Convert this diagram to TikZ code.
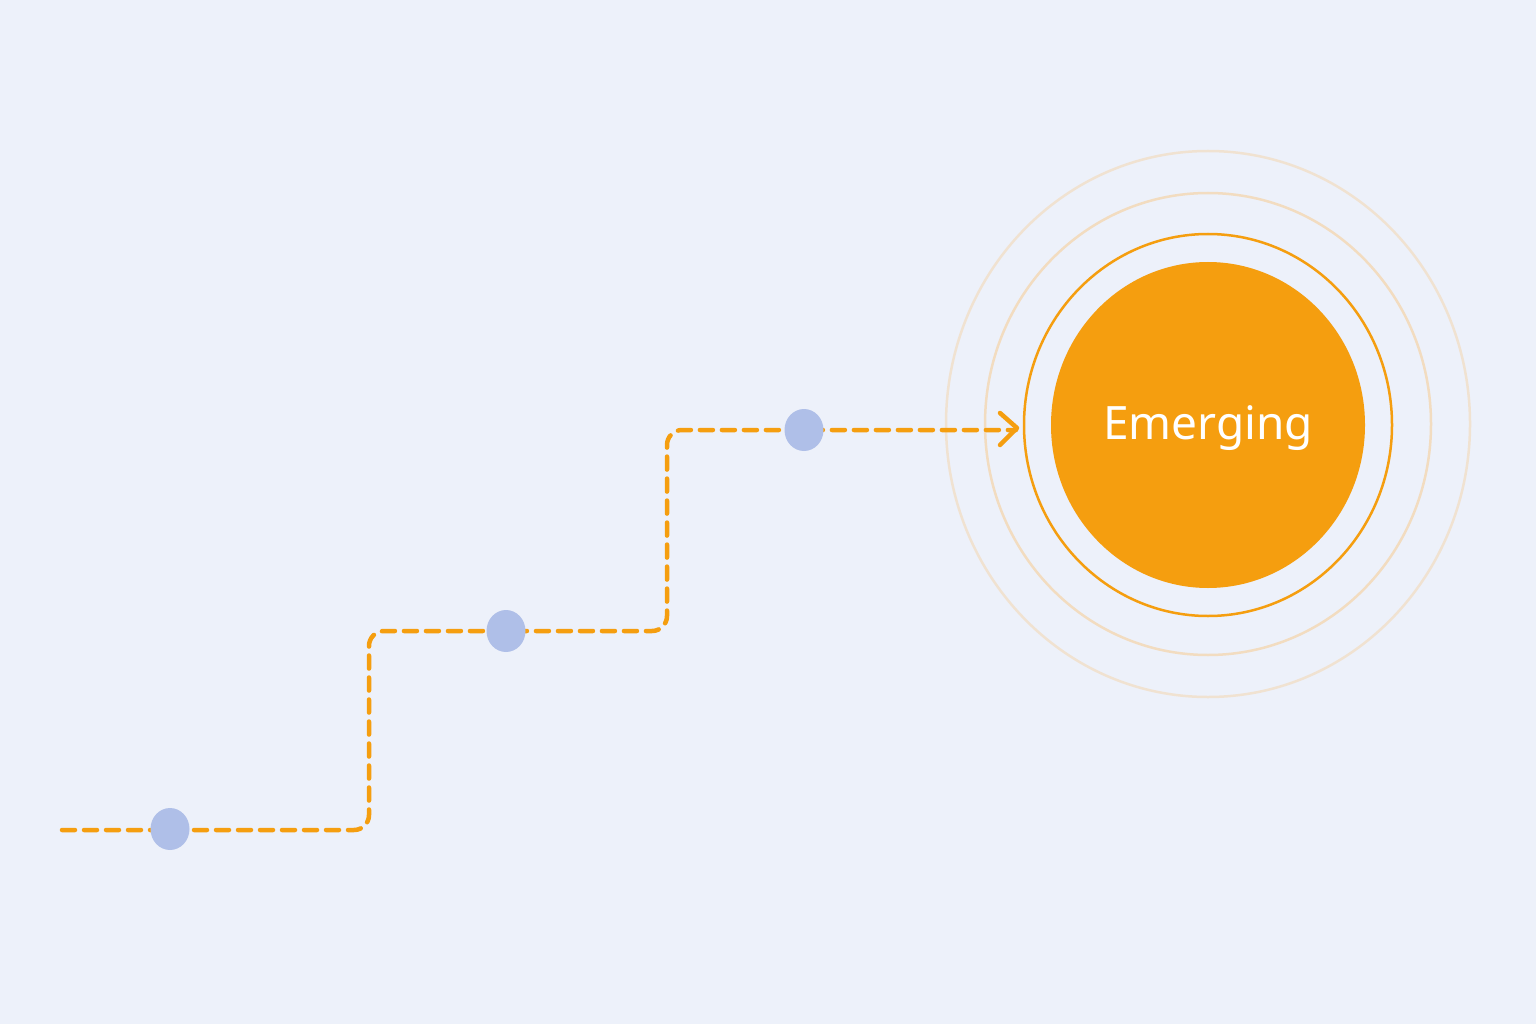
\documentclass[tikz,border=0pt]{standalone}
\usepackage{fontspec}
\setmainfont{Noto Sans}
\usetikzlibrary{arrows.meta}
\definecolor{bg}{HTML}{EDF1FA}
\definecolor{org}{HTML}{F59E0F}
\definecolor{faint}{HTML}{F2DCC0}
\definecolor{dot}{HTML}{AFBFE8}
\begin{document}
\begin{tikzpicture}[x=1pt,y=-1pt,
  dashline/.style={org,line width=4.5pt,dash pattern=on 13pt off 9pt,line cap=round,rounded corners=15pt},
  stop/.style={fill=dot,draw=none,ellipse,minimum width=39pt,minimum height=42pt,inner sep=0pt}]
\fill[bg] (0,0) rectangle (1536,1024);
\useasboundingbox (0,0) rectangle (1536,1024);
\draw[faint,opacity=0.7,line width=2.5pt] (1208,424) ellipse [x radius=262,y radius=273];
\draw[faint,line width=2.5pt] (1208,424) ellipse [x radius=223,y radius=231];
\draw[org,line width=2.5pt] (1208,425) ellipse [x radius=184,y radius=191];
\fill[org] (1208,425) ellipse [x radius=157,y radius=163];
\node[text=white,font=\bfseries\fontsize{46}{50}\selectfont] (t) at (1208,428) {Emerging};
\coordinate (s) at (62,830);
\coordinate (e) at (1016,430);
\draw[dashline] (s) -- (369,830) -- (369,631) -- (667,631) -- (667,430) -- (e);
\draw[org,line width=4.5pt,line cap=round,line join=round] (1000,413) -- (1017,428) -- (1000,445);
\fill[dot] (170,829) circle [x radius=19.5,y radius=21];
\fill[dot] (506,631) circle [x radius=19.5,y radius=21];
\fill[dot] (804,430) circle [x radius=19.5,y radius=21];
\end{tikzpicture}
\end{document}
